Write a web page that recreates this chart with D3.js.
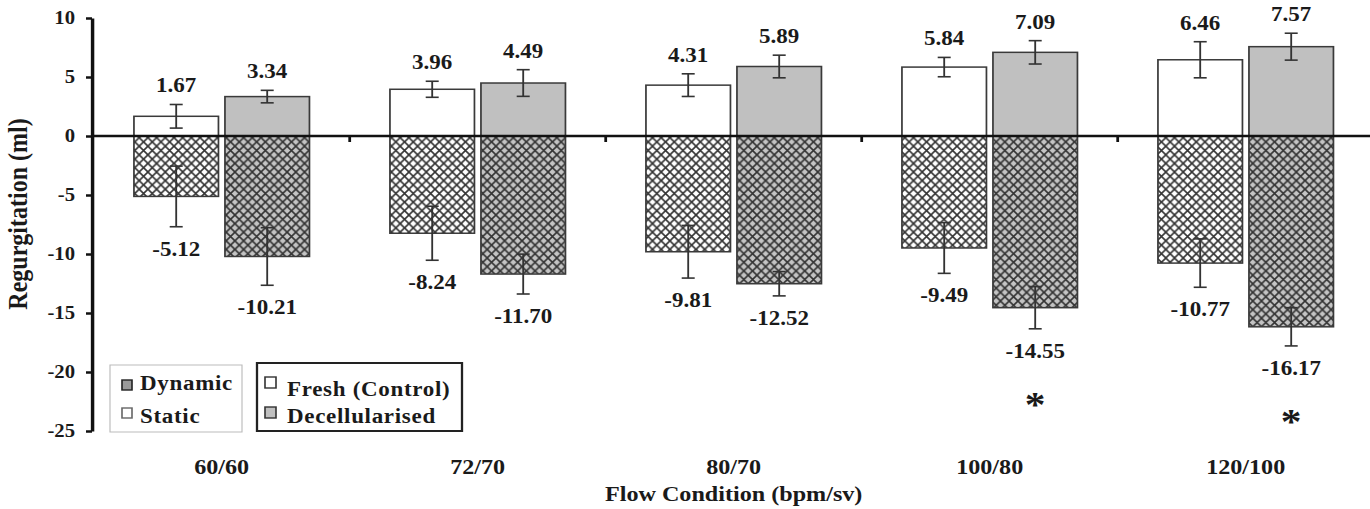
<!DOCTYPE html>
<html>
<head>
<meta charset="utf-8">
<script src="https://cdn.jsdelivr.net/npm/d3@7"></script>
<style>
  html, body { margin: 0; padding: 0; background: #fff; }
  svg { display: block; }
  text { font-family: "Liberation Serif", "Times New Roman", serif; fill: #1a1a1a; }
</style>
</head>
<body>
<svg id="chart"></svg>
<script>
// Flow conditions (bpm / stroke volume)
const categories = ["60/60", "72/70", "80/70", "100/80", "120/100"];

// Static regurgitation (positive) — means and SD
const freshStatic     = [1.67, 3.96, 4.31, 5.84, 6.46];
const freshStaticErr  = [1.00, 0.68, 0.96, 0.82, 1.53];
const decellStatic    = [3.34, 4.49, 5.89, 7.09, 7.57];
const decellStaticErr = [0.53, 1.13, 0.96, 0.99, 1.14];

// Dynamic regurgitation (negative) — means and SD
const freshDynamic     = [-5.12, -8.24, -9.81, -9.49, -10.77];
const freshDynamicErr  = [2.57, 2.29, 2.23, 2.15, 2.05];
const decellDynamic    = [-10.21, -11.70, -12.52, -14.55, -16.17];
const decellDynamicErr = [2.44, 1.69, 1.03, 1.79, 1.62];

// Significant difference (decellularised vs fresh, dynamic)
const significant = [false, false, false, true, true];

const yTicks = [10, 5, 0, -5, -10, -15, -20, -25];
const groups = ["fresh", "decell"];
const legendMode = ["Dynamic", "Static"];
const legendTissue = ["Fresh (Control)", "Decellularised"];

const W = 1370, H = 509, SX = 1.15;
const px = v => v / SX;   // horizontal pixels -> user units (text is drawn wide)

const svg = d3.select("#chart")
  .attr("width", W).attr("height", H)
  .attr("viewBox", `0 0 ${W / SX} ${H}`)
  .attr("preserveAspectRatio", "none");

// hatch patterns
const defs = svg.append("defs");
function hatch(id, bg) {
  const pw = px(8.7), ph = 8.6;
  const p = defs.append("pattern").attr("id", id)
    .attr("patternUnits", "userSpaceOnUse")
    .attr("width", pw).attr("height", ph);
  p.append("rect").attr("width", pw).attr("height", ph).attr("fill", bg);
  p.append("path")
    .attr("d", `M0,0L${pw},${ph}M${pw},0L0,${ph}`)
    .attr("stroke", "#333").attr("stroke-width", 1.5).attr("fill", "none");
}
hatch("hatchFresh", "#ffffff");
hatch("hatchDecell", "#c4c4c4");

const x = d3.scaleBand().domain(categories).range([px(93.7), px(93.7 + 1280)]);
const xSub = d3.scaleBand().domain(groups).range([px(40.25), px(215.75)]).paddingInner(0.0714);
const y = d3.scaleLinear().domain([-25, 10]).range([431, 18]);

const fills = {
  fresh:  { pos: "#ffffff", neg: "url(#hatchFresh)" },
  decell: { pos: "#c0c0c0", neg: "url(#hatchDecell)" }
};

const bars = [];
categories.forEach((c, i) => {
  bars.push({ cat: c, g: "fresh",  v: freshStatic[i],   e: freshStaticErr[i],   sign: "pos" });
  bars.push({ cat: c, g: "decell", v: decellStatic[i],  e: decellStaticErr[i],  sign: "pos" });
  bars.push({ cat: c, g: "fresh",  v: freshDynamic[i],  e: freshDynamicErr[i],  sign: "neg" });
  bars.push({ cat: c, g: "decell", v: decellDynamic[i], e: decellDynamicErr[i], sign: "neg", sig: significant[i] });
});

const cx = d => x(d.cat) + xSub(d.g) + xSub.bandwidth() / 2;

// bars
svg.append("g").selectAll("rect").data(bars).join("rect")
  .attr("x", d => x(d.cat) + xSub(d.g))
  .attr("width", xSub.bandwidth())
  .attr("y", d => Math.min(y(d.v), y(0)))
  .attr("height", d => Math.abs(y(d.v) - y(0)))
  .attr("fill", d => fills[d.g][d.sign])
  .attr("stroke", "#3a3a3a").attr("stroke-width", 1.5);

// zero line with group separators
svg.append("line")
  .attr("x1", px(92)).attr("x2", W / SX)
  .attr("y1", y(0)).attr("y2", y(0))
  .attr("stroke", "#111").attr("stroke-width", 2.6);
svg.append("g").selectAll("line").data(categories.slice(1)).join("line")
  .attr("x1", d => x(d)).attr("x2", d => x(d))
  .attr("y1", y(0)).attr("y2", y(0) + 6)
  .attr("stroke", "#111").attr("stroke-width", 2.4);

// error bars
const cap = px(6.5);
const eb = svg.append("g").attr("stroke", "#333").attr("stroke-width", 1.6);
bars.forEach(d => {
  const x0 = cx(d), y1 = y(d.v + d.e), y2 = y(d.v - d.e);
  eb.append("line").attr("x1", x0).attr("x2", x0).attr("y1", y1).attr("y2", y2);
  eb.append("line").attr("x1", x0 - cap).attr("x2", x0 + cap).attr("y1", y1).attr("y2", y1);
  eb.append("line").attr("x1", x0 - cap).attr("x2", x0 + cap).attr("y1", y2).attr("y2", y2);
});

// value labels
svg.append("g").selectAll("text").data(bars).join("text")
  .attr("x", cx)
  .attr("y", d => d.sign === "pos" ? y(d.v + d.e) - 12 : y(d.v - d.e) + 29)
  .attr("text-anchor", "middle")
  .attr("font-size", 20).attr("font-weight", "bold")
  .text(d => d.v.toFixed(2));

// significance markers
svg.append("g").selectAll("text").data(bars.filter(d => d.sig)).join("text")
  .attr("x", cx)
  .attr("y", d => y(d.v - d.e) + 88)
  .attr("text-anchor", "middle")
  .attr("font-size", 36).attr("font-weight", "bold")
  .text("*");

// y axis
const yAxis = svg.append("g")
  .attr("transform", `translate(${px(92)},0)`)
  .call(d3.axisLeft(y).tickValues(yTicks).tickSize(px(6)).tickSizeOuter(0).tickPadding(px(11))
    .tickFormat(d => String(d)));
yAxis.select(".domain").attr("stroke", "#111").attr("stroke-width", 3);
yAxis.selectAll(".tick line").attr("stroke", "#111").attr("stroke-width", 2.5);
yAxis.selectAll(".tick text")
  .attr("font-size", 18).attr("font-weight", "bold");

// x category labels
svg.append("g").selectAll("text").data(categories).join("text")
  .attr("x", d => x(d) + x.bandwidth() / 2)
  .attr("y", 474)
  .attr("text-anchor", "middle")
  .attr("font-size", 21).attr("font-weight", "bold")
  .text(d => d);

// axis titles
svg.append("text")
  .attr("x", x("80/70") + x.bandwidth() / 2).attr("y", 501)
  .attr("text-anchor", "middle")
  .attr("font-size", 21).attr("font-weight", "bold")
  .text("Flow Condition (bpm/sv)");
svg.append("text")
  .attr("transform", `translate(${px(27)},214) rotate(-90)`)
  .attr("text-anchor", "middle")
  .attr("font-size", 24).attr("font-weight", "bold")
  .text("Regurgitation (ml)");

// legends
const lg1 = svg.append("g");
lg1.append("rect").attr("x", px(110)).attr("y", 365).attr("width", px(132)).attr("height", 67)
  .attr("fill", "#fff").attr("stroke", "#bbb").attr("stroke-width", 1);
legendMode.forEach((t, i) => {
  const yy = [380, 408][i];
  lg1.append("rect").attr("x", px(122)).attr("y", yy).attr("width", px(10)).attr("height", 10)
    .attr("fill", i === 0 ? "#9a9a9a" : "#fff").attr("stroke", i === 0 ? "#222" : "#666").attr("stroke-width", 1.4);
  lg1.append("text").attr("x", px(140)).attr("y", [390, 423][i])
    .attr("font-size", 20).attr("font-weight", "bold").attr("letter-spacing", 0.6).text(t);
});
const lg2 = svg.append("g");
lg2.append("rect").attr("x", px(257)).attr("y", 363).attr("width", px(205)).attr("height", 68)
  .attr("fill", "#fff").attr("stroke", "#222").attr("stroke-width", 2);
legendTissue.forEach((t, i) => {
  const yy = [377, 407][i];
  lg2.append("rect").attr("x", px(265)).attr("y", yy).attr("width", px(11)).attr("height", 11)
    .attr("fill", i === 0 ? "#fff" : "#c0c0c0").attr("stroke", "#333").attr("stroke-width", 1.4);
  lg2.append("text").attr("x", px(287)).attr("y", [396, 423][i])
    .attr("font-size", 20).attr("font-weight", "bold").attr("letter-spacing", 0.6).text(t);
});
</script>
</body>
</html>
